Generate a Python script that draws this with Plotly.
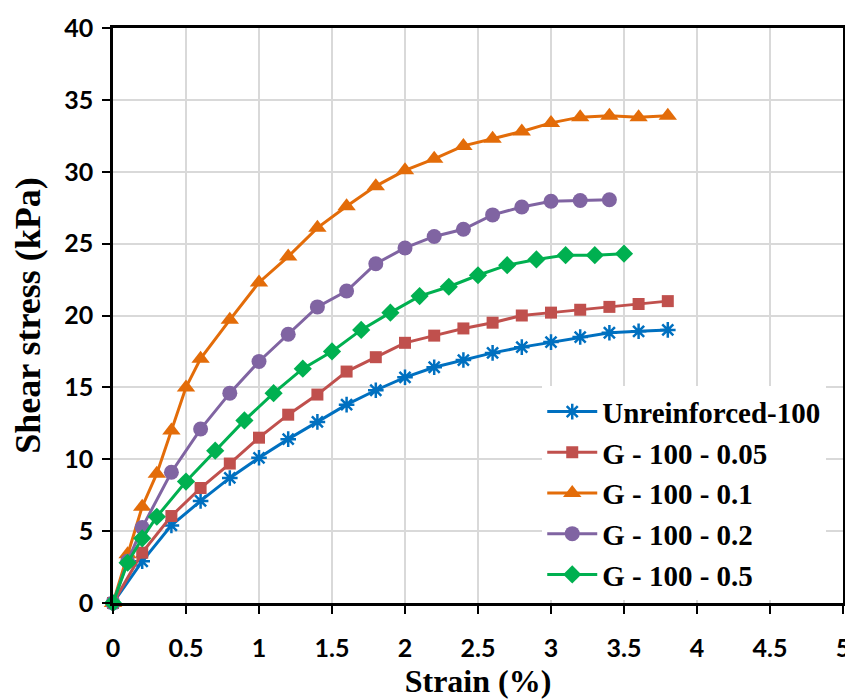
import plotly.graph_objects as go

# Strain (%) and shear stress (kPa) values
x_unr = [0, 0.2, 0.4, 0.6, 0.8, 1.0, 1.2, 1.4, 1.6, 1.8, 2.0, 2.2, 2.4, 2.6, 2.8, 3.0, 3.2, 3.4, 3.6, 3.8]
y_unr = [0, 2.9, 5.4, 7.1, 8.7, 10.1, 11.4, 12.6, 13.8, 14.8, 15.7, 16.4, 16.9, 17.4, 17.8, 18.15, 18.5, 18.8, 18.9, 19.0]

x_005 = [0, 0.2, 0.4, 0.6, 0.8, 1.0, 1.2, 1.4, 1.6, 1.8, 2.0, 2.2, 2.4, 2.6, 2.8, 3.0, 3.2, 3.4, 3.6, 3.8]
y_005 = [0, 3.5, 6.05, 8.0, 9.7, 11.5, 13.1, 14.5, 16.1, 17.1, 18.1, 18.6, 19.1, 19.5, 20.0, 20.2, 20.4, 20.6, 20.8, 21.0]

x_01 = [0, 0.1, 0.2, 0.3, 0.4, 0.5, 0.6, 0.8, 1.0, 1.2, 1.4, 1.6, 1.8, 2.0, 2.2, 2.4, 2.6, 2.8, 3.0, 3.2, 3.4, 3.6, 3.8]
y_01 = [0, 3.4, 6.7, 9.0, 12.0, 15.0, 17.0, 19.7, 22.3, 24.1, 26.1, 27.6, 29.0, 30.1, 30.9, 31.8, 32.3, 32.8, 33.4, 33.8, 33.9, 33.8, 33.9]

x_02 = [0, 0.1, 0.2, 0.4, 0.6, 0.8, 1.0, 1.2, 1.4, 1.6, 1.8, 2.0, 2.2, 2.4, 2.6, 2.8, 3.0, 3.2, 3.4]
y_02 = [0, 2.9, 5.25, 9.1, 12.1, 14.6, 16.8, 18.7, 20.6, 21.7, 23.6, 24.7, 25.5, 26.0, 27.0, 27.55, 27.95, 28.0, 28.05]

x_05 = [0, 0.1, 0.2, 0.3, 0.5, 0.7, 0.9, 1.1, 1.3, 1.5, 1.7, 1.9, 2.1, 2.3, 2.5, 2.7, 2.9, 3.1, 3.3, 3.5]
y_05 = [0, 2.8, 4.5, 6.0, 8.45, 10.6, 12.7, 14.6, 16.3, 17.5, 19.0, 20.2, 21.35, 22.0, 22.8, 23.5, 23.9, 24.2, 24.2, 24.3]

x_tickvals = [0, 0.5, 1, 1.5, 2, 2.5, 3, 3.5, 4, 4.5, 5]
x_ticktext = ["0", "0.5", "1", "1.5", "2", "2.5", "3", "3.5", "4", "4.5", "5"]

names = ["Unreinforced-100", "G - 100 - 0.05", "G - 100 - 0.1", "G - 100 - 0.2", "G - 100 - 0.5"]
colors = ["#0070C0", "#C0504D", "#E36C09", "#8064A2", "#00B050"]
symbols = ["asterisk-open", "square", "triangle-up", "circle", "diamond"]
sizes = [13, 12, 16, 15, 14]

series = [(x_unr, y_unr), (x_005, y_005), (x_01, y_01), (x_02, y_02), (x_05, y_05)]

fig = go.Figure()
for (xs, ys), name, c, s, sz in zip(series, names, colors, symbols, sizes):
    marker = dict(symbol=s, size=sz, color=c)
    if s == "asterisk-open":
        marker["line"] = dict(color=c, width=2.5)
    fig.add_trace(go.Scatter(
        x=xs, y=ys, name=name, mode="lines+markers",
        line=dict(color=c, width=3),
        marker=marker, cliponaxis=False,
    ))

axis_common = dict(
    showgrid=True, gridcolor="#D9D9D9", gridwidth=1.5,
    showline=True, linecolor="black", linewidth=2.5, mirror=True,
    ticks="outside", ticklen=8, tickwidth=2, tickcolor="black",
    tickfont=dict(family="Lato", size=25, color="black", weight="bold"),
    zeroline=False, automargin=False,
)

fig.update_xaxes(
    range=[0, 5], tickvals=x_tickvals, ticktext=x_ticktext,
    ticklabelstandoff=13,
    title=dict(text="<b>Strain (%)</b>", font=dict(family="Liberation Serif", size=32, color="black"), standoff=9),
    **axis_common,
)
fig.update_yaxes(
    range=[0, 40], dtick=5,
    ticklabelstandoff=4,
    title=dict(text="<b>Shear stress (kPa)</b>", font=dict(family="Liberation Serif", size=36, color="black"), standoff=38),
    **axis_common,
)

# the page body adds an 8 px offset, so the figure is 8 px smaller than the window
fig.update_layout(
    width=845, height=691,
    margin=dict(l=105, r=10, t=20, b=96),
    paper_bgcolor="white", plot_bgcolor="white",
    showlegend=True,
    legend=dict(
        x=0.588, y=0.377, xanchor="left", yanchor="top",
        bgcolor="white", borderwidth=0,
        font=dict(family="Liberation Serif", size=29, color="black", weight="bold"),
        itemwidth=50, tracegroupgap=0,
    ),
)

fig.write_html("out.html")
